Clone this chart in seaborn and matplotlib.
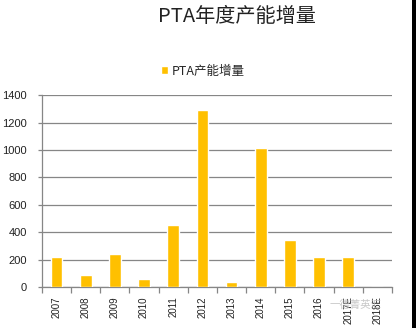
import matplotlib
matplotlib.use("Agg")
import matplotlib.pyplot as plt
from matplotlib.patches import Rectangle
import seaborn as sns
import pandas as pd

# Annual PTA capacity additions (10k tonnes)
years = ["2007", "2008", "2009", "2010", "2011", "2012", "2013",
         "2014", "2015", "2016", "2017E", "2018E"]
increase = [220, 90, 240, 60, 450, 1290, 35, 1015, 345, 220, 220, 0]
series_name = "PTA产能增量"
title = "PTA年度产能增量"
credit = "一德菁英汇"

df = pd.DataFrame({"year": years, "value": increase})

sns.set_theme(style="white")
plt.rcParams["font.family"] = ["Liberation Sans", "Noto Sans CJK SC", "DejaVu Sans"]
cjk = ["Noto Sans CJK SC", "DejaVu Sans"]

gold = "#FFC000"
grid_c = "#868686"

fig = plt.figure(figsize=(4.16, 3.28), dpi=100)
ax = fig.add_axes([0.101, 0.125, 0.841, 0.585])

sns.barplot(data=df, x="year", y="value", color=gold, width=0.4,
            saturation=1, ax=ax, label=series_name, zorder=3)

ax.set_ylim(0, 1400)
ax.set_yticks(range(0, 1401, 200))
ax.set_xlim(-0.5, len(years) - 0.5)
ax.set_xlabel("")
ax.set_ylabel("")

ax.yaxis.grid(True, color=grid_c, linewidth=0.9, zorder=0)
ax.xaxis.grid(False)
for side in ("top", "right"):
    ax.spines[side].set_visible(False)
for side in ("left", "bottom"):
    ax.spines[side].set_color(grid_c)
    ax.spines[side].set_linewidth(0.9)

# category boundary ticks below the axis
ax.set_xticks([i - 0.5 for i in range(len(years) + 1)], minor=True)
ax.tick_params(axis="x", which="minor", length=4, width=0.9, color=grid_c,
               direction="out", bottom=True)
ax.tick_params(axis="x", which="major", length=0, pad=6.5, labelsize=7,
               labelrotation=90, labelcolor="#222222")
ax.tick_params(axis="y", length=3, width=0.9, color=grid_c, direction="out",
               left=True, labelsize=8, labelcolor="#222222", pad=8)

if ax.legend_:
    ax.legend_.remove()
handles, labels = ax.get_legend_handles_labels()
fig.legend(handles[:1], labels[:1], loc="center", bbox_to_anchor=(0.487, 0.783),
           frameon=False, prop={"family": cjk, "size": 9},
           handlelength=0.55, handleheight=0.55, handletextpad=0.3)

fig.text(0.57, 0.95, title, ha="center", va="center",
         fontsize=14.5, family=cjk, color="#222222")

# faint credit mark
fig.text(0.855, 0.072, credit, ha="center", va="center",
         fontsize=7.5, family=cjk, color="#bbbbbb", alpha=0.8)

# dark border strip on the right edge
fig.patches.append(Rectangle((412 / 416, 0), 4 / 416, 1, transform=fig.transFigure,
                             facecolor="black", edgecolor="none", zorder=10))

fig.savefig("out.png", dpi=100, facecolor="white")
